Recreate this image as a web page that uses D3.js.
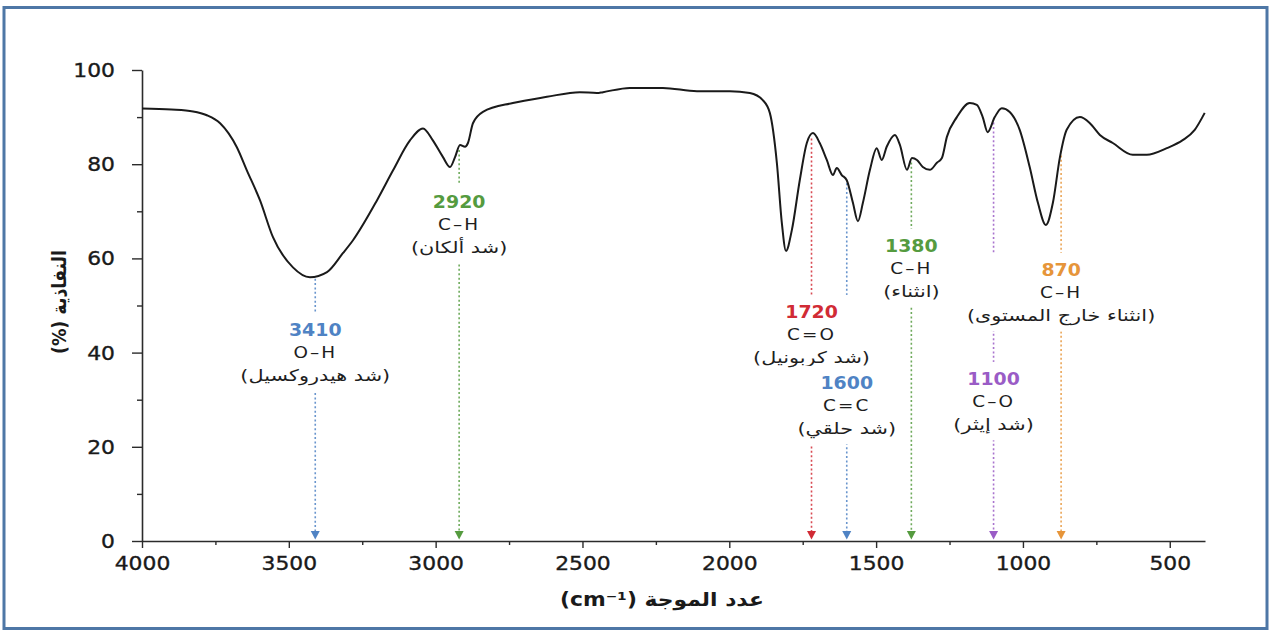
<!DOCTYPE html>
<html>
<head>
<meta charset="utf-8">
<script src="https://cdn.jsdelivr.net/npm/d3@7"></script>
<style>
  html, body { margin: 0; padding: 0; background: #fff; }
  svg { display: block; }
</style>
</head>
<body>
<svg id="chart" width="1272" height="634"></svg>
<script>
// Infrared spectrum: wavenumber (cm^-1) against transmittance (%)
const wavenumbers = [4000, 3900, 3826, 3779, 3734, 3677, 3643, 3598, 3554, 3486, 3428, 3370, 3316, 3282, 3200, 3145, 3088, 3043, 3009, 2975, 2951, 2934, 2917, 2900, 2890, 2873, 2839, 2737, 2621, 2509, 2451, 2430, 2339, 2226, 2110, 1998, 1930, 1886, 1862, 1838, 1821, 1807, 1787, 1760, 1736, 1715, 1692, 1668, 1647, 1634, 1617, 1600, 1579, 1562, 1545, 1521, 1498, 1481, 1464, 1436, 1419, 1395, 1378, 1361, 1341, 1317, 1293, 1276, 1259, 1225, 1181, 1157, 1137, 1120, 1096, 1072, 1045, 1011, 977, 949, 922, 898, 874, 851, 806, 772, 738, 694, 626, 578, 510, 456, 415, 381];
const transmittance = [91.8, 91.6, 91.2, 90.4, 88.7, 83.6, 78.7, 72.3, 64.5, 58.1, 56.0, 57.1, 61.1, 63.8, 72.3, 78.7, 85.0, 87.6, 85.0, 81.5, 79.4, 81.5, 84.1, 83.7, 84.5, 88.7, 91.1, 93.0, 94.3, 95.3, 95.1, 95.3, 96.2, 96.2, 95.5, 95.5, 95.1, 93.6, 90.9, 80.3, 67.5, 61.6, 66.0, 76.6, 84.5, 86.6, 84.5, 80.9, 77.7, 79.2, 77.7, 76.6, 71.8, 67.9, 71.8, 78.8, 83.4, 80.9, 83.7, 86.2, 84.1, 78.8, 81.3, 80.9, 79.4, 78.8, 80.3, 81.3, 85.8, 90.0, 93.0, 92.6, 90.0, 86.8, 90.0, 91.9, 91.1, 87.3, 79.4, 71.8, 67.1, 71.8, 81.5, 87.3, 90.0, 88.7, 86.2, 84.5, 82.0, 82.0, 83.4, 85.1, 87.3, 90.9];

// Axis ticks
const xTicks = [4000, 3500, 3000, 2500, 2000, 1500, 1000, 500];
const xMinorTicks = [3750, 3250, 2750, 2250, 1750, 1250, 750];
const yTicks = [0, 20, 40, 60, 80, 100];
const yMinorTicks = [10, 30, 50, 70, 90];

// Assigned absorption bands
const peakWavenumbers = [3410, 2920, 1720, 1600, 1380, 1100, 870];
const peakBonds = ["O–H", "C–H", "C=O", "C=C", "C–H", "C–O", "C–H"];
const peakModes = ["(شد هيدروكسيل)", "(شد ألكان)", "(شد كربونيل)", "(شد حلقي)", "(انثناء)", "(شد إيثر)", "(انثناء خارج المستوى)"];

const xTitle = "عدد الموجة (cm⁻¹)";
const yTitle = "النفاذية (%)";

// ---- styling & layout ----
const peakColors = ["#4f83c4", "#559b3f", "#d12b35", "#4f83c4", "#559b3f", "#9a5cc6", "#e6953a"];
const labelRowY = [329, 201, 311, 382, 245, 378, 269];   // vertical centre of each band's number line
const ROW = 23.5;
const SX = 1.15;                                           // horizontal text stretch
const FONT = "'DejaVu Sans', 'Liberation Sans', sans-serif";
const M = { left: 142, right: 1205, top: 70, bottom: 541 };

const svg = d3.select("#chart");

// outer frame
svg.append("rect")
  .attr("x", 4).attr("y", 7.5).attr("width", 1263).attr("height", 621)
  .attr("fill", "none").attr("stroke", "#4e77a6").attr("stroke-width", 3);

const x = d3.scaleLinear().domain([4000, 380]).range([M.left, M.right]);
const y = d3.scaleLinear().domain([0, 100]).range([M.bottom, M.top]);

// ---- axes ----
const gx = svg.append("g").attr("transform", `translate(0,${M.bottom})`)
  .call(d3.axisBottom(x).tickValues(xTicks).tickSize(7).tickSizeOuter(0).tickPadding(9).tickFormat(d3.format("d")));
const gxMinor = svg.append("g").attr("transform", `translate(0,${M.bottom})`)
  .call(d3.axisBottom(x).tickValues(xMinorTicks).tickSize(4).tickSizeOuter(0).tickFormat(""));
gxMinor.select(".domain").remove();

const gy = svg.append("g").attr("transform", `translate(${M.left},0)`)
  .call(d3.axisLeft(y).tickValues(yTicks).tickSize(10).tickSizeOuter(0).tickFormat(d3.format("d")));
const gyMinor = svg.append("g").attr("transform", `translate(${M.left},0)`)
  .call(d3.axisLeft(y).tickValues(yMinorTicks).tickSize(5).tickSizeOuter(0).tickFormat(""));
gyMinor.select(".domain").remove();

[gx, gxMinor, gy, gyMinor].forEach(g => {
  g.selectAll(".domain").attr("stroke", "#2b2b2b").attr("stroke-width", 1.6);
  g.selectAll(".tick line").attr("stroke", "#2b2b2b").attr("stroke-width", 1.4);
});
gx.selectAll(".tick text")
  .attr("font-family", FONT).attr("font-size", 19).attr("fill", "#1a1a1a")
  .attr("stroke", "#1a1a1a").attr("stroke-width", 0.35)
  .attr("transform", `scale(${SX},1)`);
gy.selectAll(".tick text")
  .attr("font-family", FONT).attr("font-size", 19).attr("fill", "#1a1a1a")
  .attr("stroke", "#1a1a1a").attr("stroke-width", 0.35)
  .attr("x", -27 / SX).attr("dy", "0.34em")
  .attr("transform", `scale(${SX},1)`);

// axis titles
svg.append("text")
  .attr("transform", `translate(662,606) scale(${SX},1)`)
  .attr("text-anchor", "middle").attr("direction", "rtl")
  .attr("font-family", FONT).attr("font-size", 19).attr("font-weight", "bold").attr("fill", "#1a1a1a")
  .text(xTitle);
svg.append("text")
  .attr("transform", `translate(66,302) rotate(-90) scale(0.87,1)`)
  .attr("text-anchor", "middle").attr("direction", "rtl")
  .attr("font-family", FONT).attr("font-size", 20).attr("font-weight", "bold").attr("fill", "#1a1a1a")
  .text(yTitle);

// ---- band markers ----
function transmittanceAt(v) {
  for (let i = 0; i < wavenumbers.length - 1; i++) {
    const a = wavenumbers[i], b = wavenumbers[i + 1];
    if (v <= a && v >= b) {
      const t = (a - v) / (a - b);
      return transmittance[i] + t * (transmittance[i + 1] - transmittance[i]);
    }
  }
  return transmittance[transmittance.length - 1];
}

const bands = peakWavenumbers.map((v, i) => ({
  v, bond: peakBonds[i], mode: peakModes[i], color: peakColors[i], rowY: labelRowY[i],
  t: transmittanceAt(v)
}));

const gLines = svg.append("g");
bands.forEach(b => {
  const px = x(b.v);
  gLines.append("line")
    .attr("x1", px).attr("x2", px)
    .attr("y1", y(b.t) + 3).attr("y2", M.bottom - 8)
    .attr("stroke", b.color).attr("stroke-opacity", 0.85)
    .attr("stroke-width", 1.6).attr("stroke-dasharray", "2,2.4");
  gLines.append("path")
    .attr("d", `M${px - 4.5},${M.bottom - 10} L${px + 4.5},${M.bottom - 10} L${px},${M.bottom - 1.5} Z`)
    .attr("fill", b.color);
});

const gLabels = svg.append("g");
bands.forEach(b => {
  const px = x(b.v);
  const g = gLabels.append("g");
  const bg = g.append("rect").attr("fill", "#fff");
  g.append("text")
    .attr("transform", `translate(${px},${b.rowY + 6.5}) scale(1.05,1)`)
    .attr("text-anchor", "middle")
    .attr("font-family", FONT).attr("font-size", 18).attr("font-weight", "bold")
    .attr("fill", b.color).text(b.v);
  g.append("text")
    .attr("transform", `translate(${px},${b.rowY + ROW + 5.5}) scale(${SX},1)`)
    .attr("text-anchor", "middle").attr("letter-spacing", 1.8)
    .attr("font-family", FONT).attr("font-size", 16)
    .attr("fill", "#1e1e1e").text(b.bond);
  g.append("text")
    .attr("transform", `translate(${px},${b.rowY + 2 * ROW + 5}) scale(1.3,1)`)
    .attr("text-anchor", "middle").attr("direction", "rtl")
    .attr("font-family", FONT).attr("font-size", 16)
    .attr("fill", "#1e1e1e").text(b.mode);
  const bb = g.node().getBBox();
  bg.attr("x", bb.x - 3).attr("y", bb.y - 6).attr("width", bb.width + 6).attr("height", bb.height + 12);
});

// ---- spectrum ----
const pts = wavenumbers.map((v, i) => [v, transmittance[i]]);
svg.append("path")
  .datum(pts)
  .attr("fill", "none").attr("stroke", "#1a1a1a").attr("stroke-width", 2)
  .attr("stroke-linejoin", "round")
  .attr("d", d3.line().x(d => x(d[0])).y(d => y(d[1])).curve(d3.curveMonotoneX));
</script>
</body>
</html>
